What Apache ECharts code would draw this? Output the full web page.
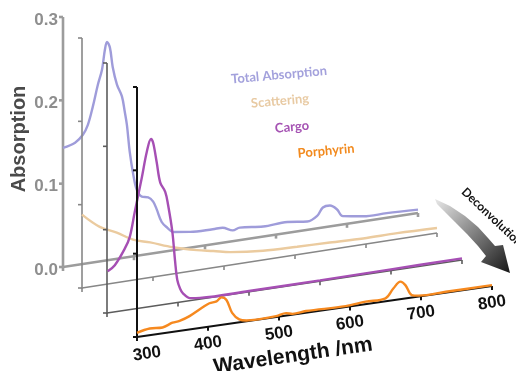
<!DOCTYPE html>
<html>
<head>
<meta charset="utf-8">
<script src="https://cdn.jsdelivr.net/npm/echarts@6/dist/echarts.min.js"></script>
<style>
html, body { margin: 0; padding: 0; background: #fff; }
#chart { width: 516px; height: 371px; }
</style>
</head>
<body>
<div id="chart"></div>
<script>
// tick values
var wlTicks = [300, 400, 500, 600, 700, 800];
var absTicks = [0.0, 0.1, 0.2, 0.3];
var absLabels = ['0.0', '0.1', '0.2', '0.3'];

// Total Absorption
var totalWl = [300, 317, 328, 335, 342, 349, 355, 359, 362, 366, 370, 376, 383, 387, 390, 394, 399, 404, 411, 420, 427, 432, 439, 447, 455, 479, 511, 525, 539, 549, 582, 616, 644, 658, 666, 676, 686, 694, 723, 756, 800];
var totalAbs = [0.143, 0.147, 0.155, 0.166, 0.187, 0.212, 0.230, 0.253, 0.262, 0.255, 0.231, 0.209, 0.194, 0.175, 0.159, 0.126, 0.098, 0.079, 0.070, 0.068, 0.062, 0.052, 0.036, 0.028, 0.022, 0.019, 0.018, 0.018, 0.013, 0.015, 0.012, 0.013, 0.010, 0.015, 0.024, 0.025, 0.019, 0.010, 0.006, 0.0055, 0.004];

// Scattering
var scatterWl = [300, 325, 349, 372, 396, 428, 462, 485, 509, 555, 603, 649, 696, 744, 800];
var scatterAbs = [0.088, 0.070, 0.060, 0.0485, 0.042, 0.032, 0.024, 0.020, 0.0155, 0.011, 0.0095, 0.0085, 0.0072, 0.0072, 0.006];

// Cargo
var cargoWl = [301, 311, 325, 332, 339, 349, 356, 362, 365, 370, 375, 382, 386, 392, 396, 399, 403, 407, 417, 431, 500, 600, 700, 800];
var cargoAbs = [0.050, 0.056, 0.074, 0.087, 0.116, 0.156, 0.186, 0.201, 0.196, 0.172, 0.147, 0.135, 0.119, 0.086, 0.049, 0.027, 0.016, 0.010, 0.003, 0.0015, 0.001, 0.001, 0.0015, 0.002];

// Porphyrin
var porphWl = [300, 318, 336, 350, 360, 374, 392, 402, 412, 419, 426, 434, 444, 454, 496, 510, 519, 538, 594, 622, 650, 661, 671, 678, 687, 697, 735, 800];
var porphAbs = [0.005, 0.008, 0.007, 0.011, 0.012, 0.016, 0.024, 0.028, 0.029, 0.033, 0.029, 0.0125, 0.0035, 0.001, 0.001, 0.003, 0.001, 0.002, 0.001, 0.003, 0.0036, 0.014, 0.021, 0.016, 0.003, 0.001, 0.001, 0.001];

var seriesNames = ['Total Absorption', 'Scattering', 'Cargo', 'Porphyrin'];
var seriesColors = ['#9f9cda', '#ebcb9f', '#a64fb4', '#f6891f'];

// front plane: 300 nm / 0.0 sits at (GL, GB), 500 nm span = GW px, 0.3 = GH px
var W = 516, H = 371;
var GL = 137, GB = 337, GW = 355, GH = 250;
var pxPerNm = GW / 500;
var pxPerAbs = GH / 0.3;
// pixel origin of each stacked plane, back to front
var layers = [
    { x: 63, y: 267, yEnd: 213, color: '#9c9c9c', width: 2.6 },
    { x: 82, y: 288, yEnd: 233, color: '#878787', width: 1.6 },
    { x: 107, y: 313, yEnd: 260, color: '#5c5c5c', width: 1.6 },
    { x: 137, y: 337, yEnd: 286, color: '#111111', width: 2 }
];

// map (wavelength, absorbance) of plane k into the front plane's data space
function proj(w, a, k) {
    var L = layers[k];
    var dw = (L.x - GL) / pxPerNm;
    var dA = (GB - L.y) / pxPerAbs;
    var tilt = (L.y - L.yEnd) / 500 / pxPerAbs;
    return [w + dw, a + dA + (w - 300) * tilt];
}

var font = '"Liberation Sans", Arial, sans-serif';
var slant = Math.atan((layers[3].y - layers[3].yEnd) / GW);

function axisRenderer(k) {
    return function (params, api) {
        var L = layers[k];
        var ls = { stroke: L.color, lineWidth: L.width, lineCap: 'butt' };
        var ch = [];
        var o = api.coord(proj(300, 0, k));
        var e = api.coord(proj(800, 0, k));
        var t = api.coord(proj(300, 0.3, k));
        ch.push({ type: 'line', shape: { x1: o[0], y1: o[1], x2: e[0], y2: e[1] }, style: ls });
        ch.push({ type: 'line', shape: { x1: o[0], y1: o[1] + 1, x2: t[0], y2: t[1] }, style: ls });
        wlTicks.forEach(function (w) {
            var p = api.coord(proj(w, 0, k));
            ch.push({ type: 'line', shape: { x1: p[0], y1: p[1], x2: p[0], y2: p[1] + 4 }, style: ls });
        });
        absTicks.forEach(function (a) {
            var p = api.coord(proj(300, a, k));
            ch.push({ type: 'line', shape: { x1: p[0] - 4, y1: p[1], x2: p[0], y2: p[1] }, style: ls });
        });
        if (k === 0) {
            absTicks.forEach(function (a, i) {
                var p = api.coord(proj(300, a, k));
                ch.push({ type: 'text', x: p[0] - 5, y: p[1] + 3, style: {
                    text: absLabels[i], font: 'bold 17px ' + font, fill: '#8e8e8e',
                    align: 'right', verticalAlign: 'middle' } });
            });
        }
        if (k === 3) {
            wlTicks.forEach(function (w, i) {
                var p = api.coord(proj(w, 0, k));
                ch.push({ type: 'text', x: p[0] + (i === 0 ? 10 : 0), y: p[1] + 17, rotation: slant, style: {
                    text: String(w), font: 'bold 17px ' + font, fill: '#111',
                    align: 'center', verticalAlign: 'middle' } });
            });
        }
        return { type: 'group', children: ch };
    };
}

var curves = [[totalWl, totalAbs], [scatterWl, scatterAbs], [cargoWl, cargoAbs], [porphWl, porphAbs]];
var series = [];
for (var k = 0; k < 4; k++) {
    series.push({
        type: 'custom',
        z: 2 + k * 2,
        silent: true,
        renderItem: axisRenderer(k),
        data: [[300, 0]]
    });
    var wl = curves[k][0], ab = curves[k][1];
    series.push({
        name: seriesNames[k],
        type: 'line',
        z: 3 + k * 2,
        smooth: 0.35,
        showSymbol: false,
        clip: false,
        lineStyle: { color: seriesColors[k], width: 2.4 },
        data: wl.map(function (w, i) { return proj(w, ab[i], k); })
    });
}

var chart = echarts.init(document.getElementById('chart'));
chart.setOption({
    animation: false,
    backgroundColor: '#fff',
    // grid spans the whole canvas; axis ranges are chosen so the front plane lands at GL/GB
    grid: { left: 0, top: 0, right: 0, bottom: 0 },
    xAxis: { type: 'value', min: 300 - GL / pxPerNm, max: 300 + (W - GL) / pxPerNm, show: false },
    yAxis: { type: 'value', min: -(H - GB) / pxPerAbs, max: GB / pxPerAbs, show: false },
    graphic: [
        { type: 'text', x: 19, y: 139, rotation: Math.PI / 2, style: {
            text: 'Absorption', font: 'bold 20px ' + font, fill: '#4a4a4a', align: 'center', verticalAlign: 'middle' } },
        { type: 'text', x: 293, y: 356, rotation: slant, style: {
            text: 'Wavelength /nm', font: 'bold 21px ' + font, fill: '#111', align: 'center', verticalAlign: 'middle' } },
        { type: 'text', x: 279, y: 75, rotation: 0.09, style: {
            text: 'Total Absorption', font: 'bold 13px Lato, sans-serif', fill: '#a3a1dc', align: 'center', verticalAlign: 'middle' } },
        { type: 'text', x: 280, y: 101, rotation: 0.09, style: {
            text: 'Scattering', font: 'bold 13px Lato, sans-serif', fill: '#e8caa3', align: 'center', verticalAlign: 'middle' } },
        { type: 'text', x: 292, y: 127, rotation: 0.09, style: {
            text: 'Cargo', font: 'bold 13px Lato, sans-serif', fill: '#a552b3', align: 'center', verticalAlign: 'middle' } },
        { type: 'text', x: 326, y: 151, rotation: 0.09, style: {
            text: 'Porphyrin', font: 'bold 13px Lato, sans-serif', fill: '#f28a1e', align: 'center', verticalAlign: 'middle' } },
        { type: 'text', x: 492, y: 217, rotation: -0.76, style: {
            text: 'Deconvolution', font: 'bold 12px Lato, sans-serif', fill: '#111', align: 'center', verticalAlign: 'middle' } },
        { type: 'polygon', shape: { points: [
            [435, 199], [450, 206], [465, 216], [478, 227], [488, 238], [495, 246],
            [503, 245], [510, 273], [481, 262],
            [486, 256], [478, 246], [467, 234], [455, 222], [444, 211], [437, 204]
        ] }, style: { fill: { type: 'linear', x: 0, y: 0, x2: 1, y2: 1, colorStops: [
            { offset: 0, color: '#e8e8e8' }, { offset: 1, color: '#161616' } ] } } }
    ],
    series: series
});
</script>
</body>
</html>
